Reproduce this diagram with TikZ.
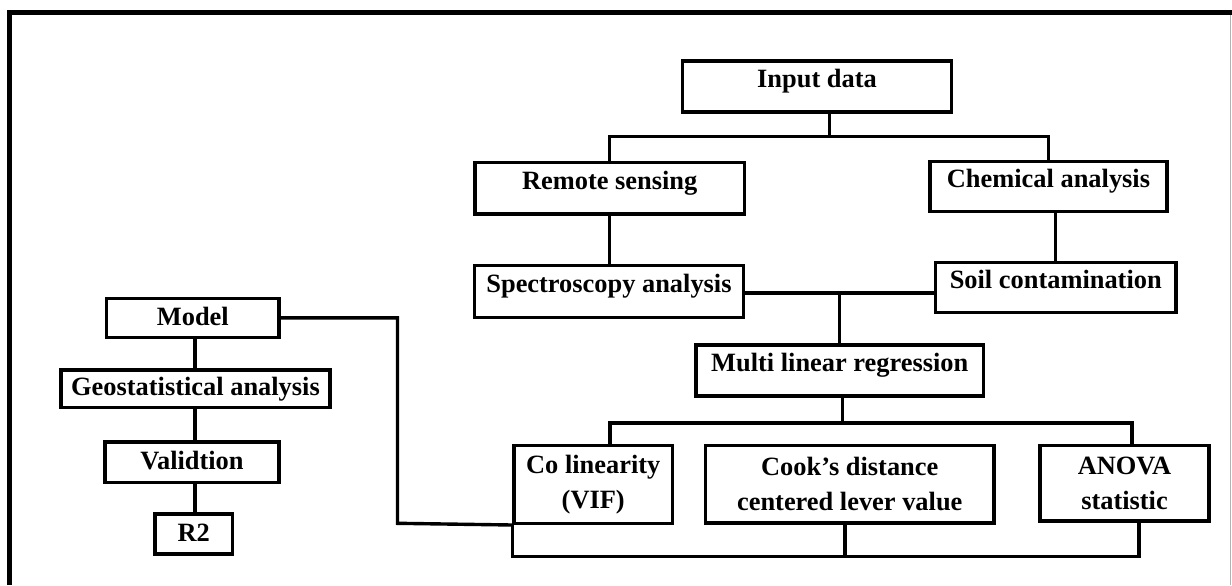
\documentclass[tikz,border=0pt]{standalone}
\usepackage{fontspec}
\setmainfont{Liberation Serif}
\begin{document}
\begin{tikzpicture}[x=0.5pt,y=-0.5pt,
  box/.style={draw, line width=1.7pt, inner sep=0pt, align=center,
    font=\fontsize{13.2pt}{17.5pt}\selectfont\bfseries},
  toptext/.style={text height=8.7pt, text depth=7.7pt},
  captext/.style={text height=8.7pt, text depth=1.5pt},
  conn/.style={line width=1.7pt},
  frameline/.style={line width=2.6pt}]
\useasboundingbox (0,0) rectangle (1232,585);
% frame
\draw[frameline] (9.5,585) -- (9.5,12.5) -- (1232,12.5);
\draw[gray!60, line width=0.6pt] (1230.5,15) -- (1230.5,585);
% nodes
\node[box,toptext,minimum width=134.5pt,minimum height=25.5pt] (inp) at (817,86.5) {Input data};
\node[box,toptext,minimum width=134.75pt,minimum height=25.65pt] (rs) at (609.75,188.35) {Remote sensing};
\node[box,toptext,minimum width=118.5pt,minimum height=25pt] (chem) at (1048.5,186.7) {Chemical analysis};
\node[box,toptext,minimum width=134.5pt,minimum height=25.8pt] (spec) at (609,291.5) {Spectroscopy analysis};
\node[box,toptext,minimum width=120.25pt,minimum height=25pt] (soil) at (1055.75,287.7) {Soil contamination};
\node[box,toptext,minimum width=143.75pt,minimum height=25.5pt] (mlr) at (839.75,370.5) {Multi linear regression};
\node[box,minimum width=79.25pt,minimum height=38.8pt] (col) at (593.25,484.5) {Co linearity\\(VIF)};
\node[box,minimum width=144.25pt,minimum height=38.65pt] (cook) at (849.75,484.35) {Cook’s distance\\centered lever value};
\node[box,minimum width=84.5pt,minimum height=37.65pt] (anova) at (1124.5,483.35) {ANOVA\\statistic};
\node[box,captext,minimum width=86.15pt,minimum height=19.6pt] (model) at (192.85,317.9) {Model};
\node[box,captext,minimum width=134.5pt,minimum height=18.75pt] (geo) at (195.5,388.75) {Geostatistical analysis};
\node[box,captext,minimum width=87pt,minimum height=20.35pt] (val) at (192,462.35) {Validtion};
\node[box,captext,minimum width=38.75pt,minimum height=20pt] (r2) at (193.75,534) {R2};
% junction coordinates
\coordinate (j1) at (829.6,136.7);
\coordinate (j2) at (839.5,293);
\coordinate (j3) at (842.3,423);
\coordinate (j3l) at (610,423);
\coordinate (j3r) at (1132,423);
\coordinate (j4) at (845,556.7);
\coordinate (j5) at (1139,556.7);
\coordinate (j6) at (397.5,523.3);
\coordinate (vx) at (195,0);
% connectors
\draw[conn] (inp.south -| j1) -- (j1);
\draw[conn] (rs.north) |- (j1) -| (chem.north);
\draw[conn] (rs.south) -- (rs.south |- spec.north);
\draw[conn] (soil.north) -- (soil.north |- chem.south);
\draw[conn] (spec.east |- j2) -- (soil.west |- j2);
\draw[conn] (j2) -- (j2 |- mlr.north);
\draw[conn] (mlr.south -| j3) -- (j3);
\draw[conn] (j3l |- col.north) -- (j3l) -- (j3r) -- (j3r |- anova.north);
\draw[conn] (col.south west) -- (col.south west |- j5) -- (j5) -- (j5 |- anova.south);
\draw[conn] (cook.south -| j4) -- (j4);
\draw[conn] (model.east) -| (j6) -- (col.south west);
\draw[conn] (vx |- model.south) -- (vx |- geo.north);
\draw[conn] (vx |- geo.south) -- (vx |- val.north);
\draw[conn] (vx |- val.south) -- (vx |- r2.north);
\end{tikzpicture}
\end{document}
